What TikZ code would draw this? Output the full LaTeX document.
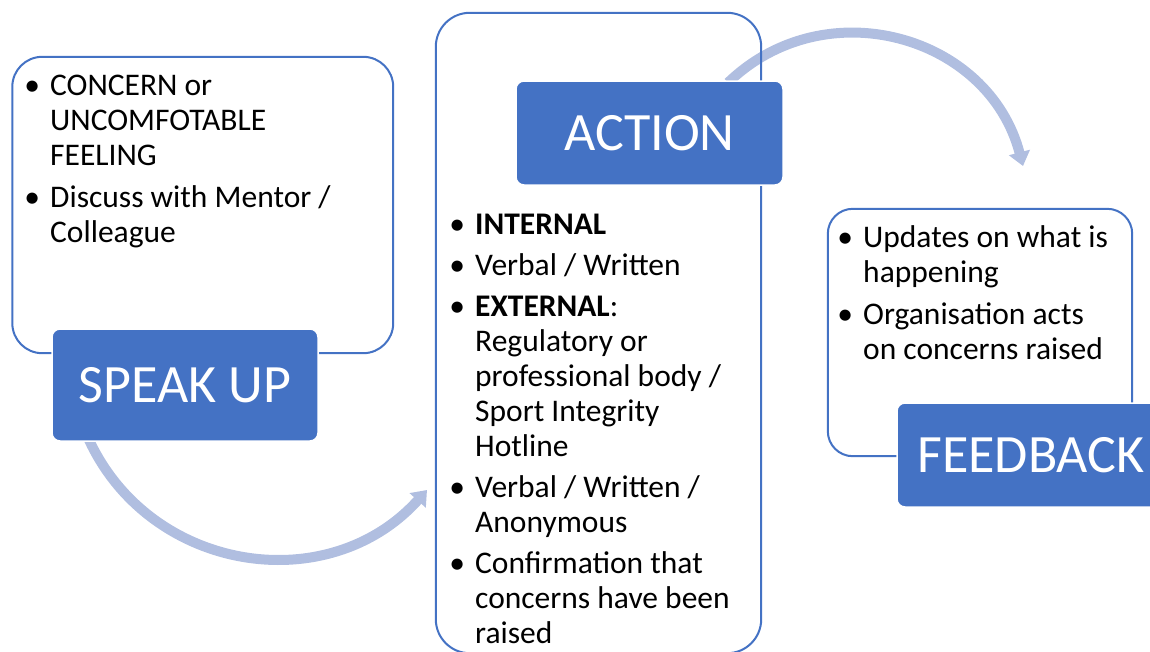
\documentclass[tikz,border=0pt]{standalone}
\usepackage{fontspec}
\setmainfont{Carlito}
\usetikzlibrary{arrows.meta}
\definecolor{accent}{RGB}{68,114,196}
\definecolor{flow}{RGB}{176,190,224}
% bullet with hanging indent for list lines
\newcommand\bl{\makebox[20pt][c]{\textbullet}\hspace{8pt}}
\newcommand\cont{\hspace*{28pt}}

\begin{document}
\begin{tikzpicture}[x=1pt,y=-1pt,
  panel/.style={fill=white, draw=none, inner sep=0pt, rounded corners=#1},
  panelline/.style={draw=accent, line width=2pt, rounded corners=#1},
  stage/.style={fill=accent, draw=white, line width=1.5pt, rounded corners=8pt,
    text=white, inner sep=0pt, font=\fontsize{54}{60}\selectfont},
  % anchored at the baseline of the last line
  body/.style={inner sep=0pt, align=left, anchor=base west,
    font=\fontsize{31.5}{35}\selectfont},
  flowarrow/.style={draw=flow, line width=10pt,
    -{Triangle[width=21pt,length=14pt]}}]
\useasboundingbox (0,0) rectangle (1150,651);

% panel backgrounds
\node[panel=30pt, minimum width=380.5pt, minimum height=296pt] (box1) at (202.75,205) {};
\node[panel=34pt, minimum width=325pt, minimum height=640pt] (box2) at (598.5,333) {};
\node[panel=25pt, minimum width=304pt, minimum height=247pt] (box3) at (980,332.5) {};

% curved flow arrows
\coordinate (a1s) at (87.5,436.6);
\coordinate (a1e) at (427,490);
\draw[flowarrow] (a1s) .. controls +(60.3,135.5) and +(-99.1,110.3) .. (a1e);
\coordinate (a2s) at (728.1,82.6);
\coordinate (a2e) at (1023,166);
\draw[flowarrow] (a2s) .. controls +(97.2,-93.9) and +(-34.3,-130.8) .. (a2e);

% panel outlines
\draw[panelline=30pt] (box1.north west) rectangle (box1.south east);
\draw[panelline=34pt] (box2.north west) rectangle (box2.south east);
\draw[panelline=25pt] (box3.north west) rectangle (box3.south east);

% stage labels
\node[stage, minimum width=266pt, minimum height=112pt] (speak) at (185,385) {SPEAK UP};
\node[stage, minimum width=267pt, minimum height=104pt] (action) at (649.5,133) {ACTION};
\node[stage, minimum width=268pt, minimum height=104pt] (feedback) at (1031,455) {FEEDBACK};

% panel contents
\node[body] (t1) at (22,242) {\bl CONCERN or\\ \cont UNCOMFOTABLE\\ \cont FEELING\\[7pt]
  \bl Discuss with Mentor /\\ \cont Colleague};
\node[body] (t2) at (447,643) {\bl \textbf{INTERNAL}\\[6pt]
  \bl Verbal / Written\\[6pt]
  \bl \textbf{EXTERNAL}:\\ \cont Regulatory or\\ \cont professional body /\\
  \cont Sport Integrity\\ \cont Hotline\\[6pt]
  \bl Verbal / Written /\\ \cont Anonymous\\[6pt]
  \bl Confirmation that\\ \cont concerns have been\\ \cont raised};
\node[body] (t3) at (835,359) {\bl Updates on what is\\ \cont happening\\[7pt]
  \bl Organisation acts\\ \cont on concerns raised};
\end{tikzpicture}
\end{document}
